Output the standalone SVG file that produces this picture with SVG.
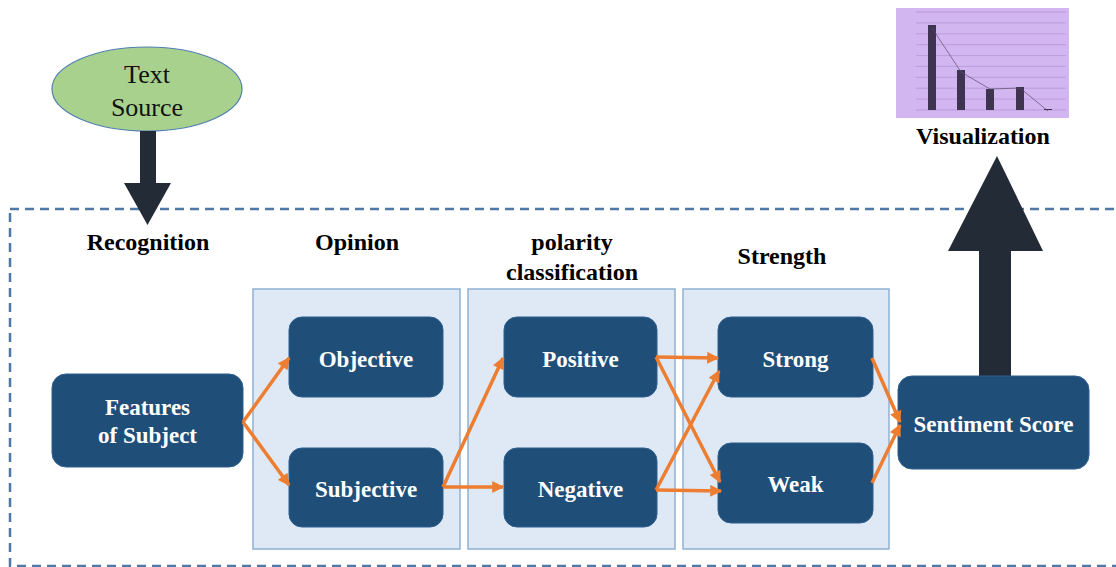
<svg xmlns="http://www.w3.org/2000/svg" width="1116" height="567" viewBox="0 0 1116 567">
<style>
.node rect{fill:#1f4e79;stroke:#2e5f8f;stroke-width:1}
.node text{fill:#fff;font-family:"Liberation Serif","Times New Roman",serif;font-weight:bold;font-size:23px;text-anchor:middle}
.panel{fill:#dee9f5;stroke:#8fb1d4;stroke-width:1.5}
.hdr{fill:#000;font-family:"Liberation Serif","Times New Roman",serif;font-weight:bold;font-size:24px;text-anchor:middle}
.conn line,.conn polyline{stroke:#ed7d31;stroke-width:3.5;fill:none;marker-end:url(#oa)}
.big{fill:#232b36}
.grid{stroke:#a98bcc;stroke-width:0.6}
.bar{fill:#3e3350}
</style>
<defs>
<marker id="oa" viewBox="0 0 10 10" refX="9" refY="5" markerWidth="14" markerHeight="12" markerUnits="userSpaceOnUse" orient="auto">
<path d="M0,0 L10,5 L0,10 z" fill="#ed7d31"/>
</marker>
</defs>
<rect width="1116" height="567" fill="#fff"/>
<!-- dashed frame -->
<rect x="10" y="209" width="1112" height="357" fill="none" stroke="#4e79a7" stroke-width="2.5" stroke-dasharray="9,6"/>
<!-- panels -->
<rect class="panel" x="253" y="289" width="207" height="260"/>
<rect class="panel" x="468" y="289" width="207" height="260"/>
<rect class="panel" x="683" y="289" width="206" height="260"/>
<!-- headers -->
<text class="hdr" x="148" y="250">Recognition</text>
<text class="hdr" x="357" y="250">Opinion</text>
<text class="hdr" x="572" y="250">polarity</text>
<text class="hdr" x="572" y="280">classification</text>
<text class="hdr" x="782" y="264">Strength</text>
<text class="hdr" x="983" y="144">Visualization</text>
<!-- text source -->
<g id="textsource">
<ellipse cx="147" cy="89" rx="95" ry="42" fill="#a9d18e" stroke="#4f7fb0" stroke-width="1.2"/>
<text x="147" y="83" font-family="'Liberation Serif','Times New Roman',serif" font-size="26" text-anchor="middle" fill="#111">Text</text>
<text x="147" y="116" font-family="'Liberation Serif','Times New Roman',serif" font-size="26" text-anchor="middle" fill="#111">Source</text>
</g>
<!-- big arrows -->
<g id="bigarrows">
<polygon class="big" points="140,131 156,131 156,183 171,183 147.5,225 124,183 140,183"/>
<polygon class="big" points="979,376 1011,376 1011,251 1043,251 997,156 948,251 979,251"/>
</g>
<!-- chart -->
<g id="visualization">
<rect x="896" y="8" width="173" height="110" fill="#d2b6f0"/>
<g class="grid">
<line x1="916" y1="12" x2="1066" y2="12"/><line x1="916" y1="22.9" x2="1066" y2="22.9"/>
<line x1="916" y1="33.8" x2="1066" y2="33.8"/><line x1="916" y1="44.7" x2="1066" y2="44.7"/>
<line x1="916" y1="55.6" x2="1066" y2="55.6"/><line x1="916" y1="66.4" x2="1066" y2="66.4"/>
<line x1="916" y1="77.3" x2="1066" y2="77.3"/><line x1="916" y1="88.2" x2="1066" y2="88.2"/>
<line x1="916" y1="99.1" x2="1066" y2="99.1"/><line x1="916" y1="110" x2="1066" y2="110"/>
</g>
<rect class="bar" x="928" y="25" width="8" height="85"/>
<rect class="bar" x="957" y="70" width="8" height="40"/>
<rect class="bar" x="986" y="89" width="8" height="21"/>
<rect class="bar" x="1016" y="87" width="8" height="23"/>
<rect class="bar" x="1044" y="109" width="8" height="1"/>
<polyline points="932,28 961,72 990,89 1020,88 1048,111" fill="none" stroke="#5a4a70" stroke-width="0.7"/>
</g>
<!-- nodes -->
<g id="features" class="node"><rect x="52" y="374" width="191" height="93" rx="14"/><text x="147.5" y="415">Features</text><text x="147.5" y="443">of Subject</text></g>
<g id="objective" class="node"><rect x="289" y="317" width="154" height="80" rx="13"/><text x="366" y="367">Objective</text></g>
<g id="subjective" class="node"><rect x="289" y="448" width="154" height="79" rx="13"/><text x="366" y="497">Subjective</text></g>
<g id="positive" class="node"><rect x="504" y="317" width="153" height="80" rx="13"/><text x="580.5" y="367">Positive</text></g>
<g id="negative" class="node"><rect x="504" y="448" width="153" height="79" rx="13"/><text x="580.5" y="497">Negative</text></g>
<g id="strong" class="node"><rect x="718" y="317" width="155" height="80" rx="13"/><text x="795.5" y="367">Strong</text></g>
<g id="weak" class="node"><rect x="718" y="443" width="155" height="80" rx="13"/><text x="795.5" y="492">Weak</text></g>
<g id="sentiment" class="node"><rect x="898" y="376" width="191" height="93" rx="14"/><text x="993.5" y="432">Sentiment Score</text></g>
<!-- connectors -->
<g class="conn" id="connectors">
<line x1="243" y1="422" x2="289" y2="358"/>
<line x1="243" y1="422" x2="289" y2="485"/>
<line x1="443" y1="487" x2="503" y2="358"/>
<line x1="443" y1="487" x2="503" y2="487"/>
<line x1="656" y1="357" x2="718" y2="358"/>
<line x1="656" y1="357" x2="720" y2="482"/>
<line x1="656" y1="490" x2="719" y2="371"/>
<line x1="656" y1="490" x2="721" y2="491"/>
<line x1="872" y1="358" x2="900" y2="422"/>
<line x1="872" y1="483" x2="900" y2="425"/>
</g>
</svg>
